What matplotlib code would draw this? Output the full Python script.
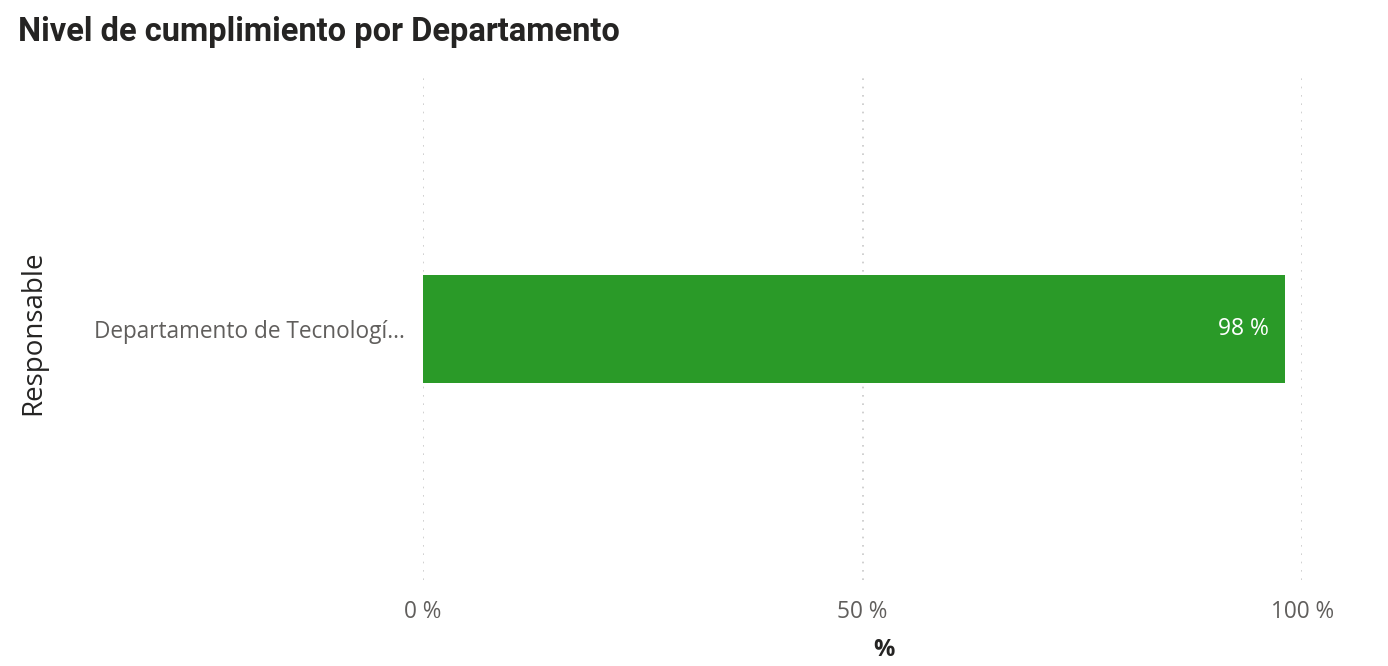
import matplotlib
matplotlib.use("Agg")
import matplotlib.pyplot as plt

categories = ["Departamento de Tecnologí..."]
values = [98]
xticks = [0, 50, 100]
xticklabels = ["0 %", "50 %", "100 %"]

fig = plt.figure(figsize=(13.88, 6.66), dpi=100)
fig.patch.set_facecolor("white")
ax = fig.add_axes([0.3048, 0.129, 0.6333, 0.754])

ax.barh(range(len(categories)), values, height=0.217, color="#2A9A28", zorder=3)
for i, v in enumerate(values):
    ax.text(v - 1.8, i, f"{v} %", ha="right", va="center", color="white",
            fontsize=16.5, family="Open Sans", zorder=4)

ax.set_xlim(0, 100)
ax.set_ylim(-0.5, 0.5)
ax.invert_yaxis()
ax.set_yticks(range(len(categories)))
ax.set_yticklabels(categories, fontsize=16.3, color="#605E5C", family="Open Sans")
ax.set_xticks(xticks)
ax.set_xticklabels(xticklabels, fontsize=16.3, color="#605E5C", family="Open Sans")
ax.tick_params(axis="both", length=0)
ax.tick_params(axis="y", pad=13)
ax.tick_params(axis="x", pad=14)
ax.xaxis.grid(True, linestyle=(0, (1, 4)), color="#C8C8C8", linewidth=1.2, zorder=0)
ax.set_axisbelow(True)
for s in ax.spines.values():
    s.set_visible(False)

fig.text(0.637, 0.024, "%", ha="center", va="center", fontsize=17,
         color="#252423", family="Open Sans", fontweight="bold")
fig.text(0.024, 0.50, "Responsable", rotation=90, ha="center", va="center",
         fontsize=20, color="#252423", family="Open Sans")
fig.text(0.013, 0.952, "Nivel de cumplimiento por Departamento", ha="left", va="center",
         fontsize=23.5, color="#252423", family="Roboto", fontweight="bold")

fig.savefig("out.png", dpi=100, facecolor="white")
